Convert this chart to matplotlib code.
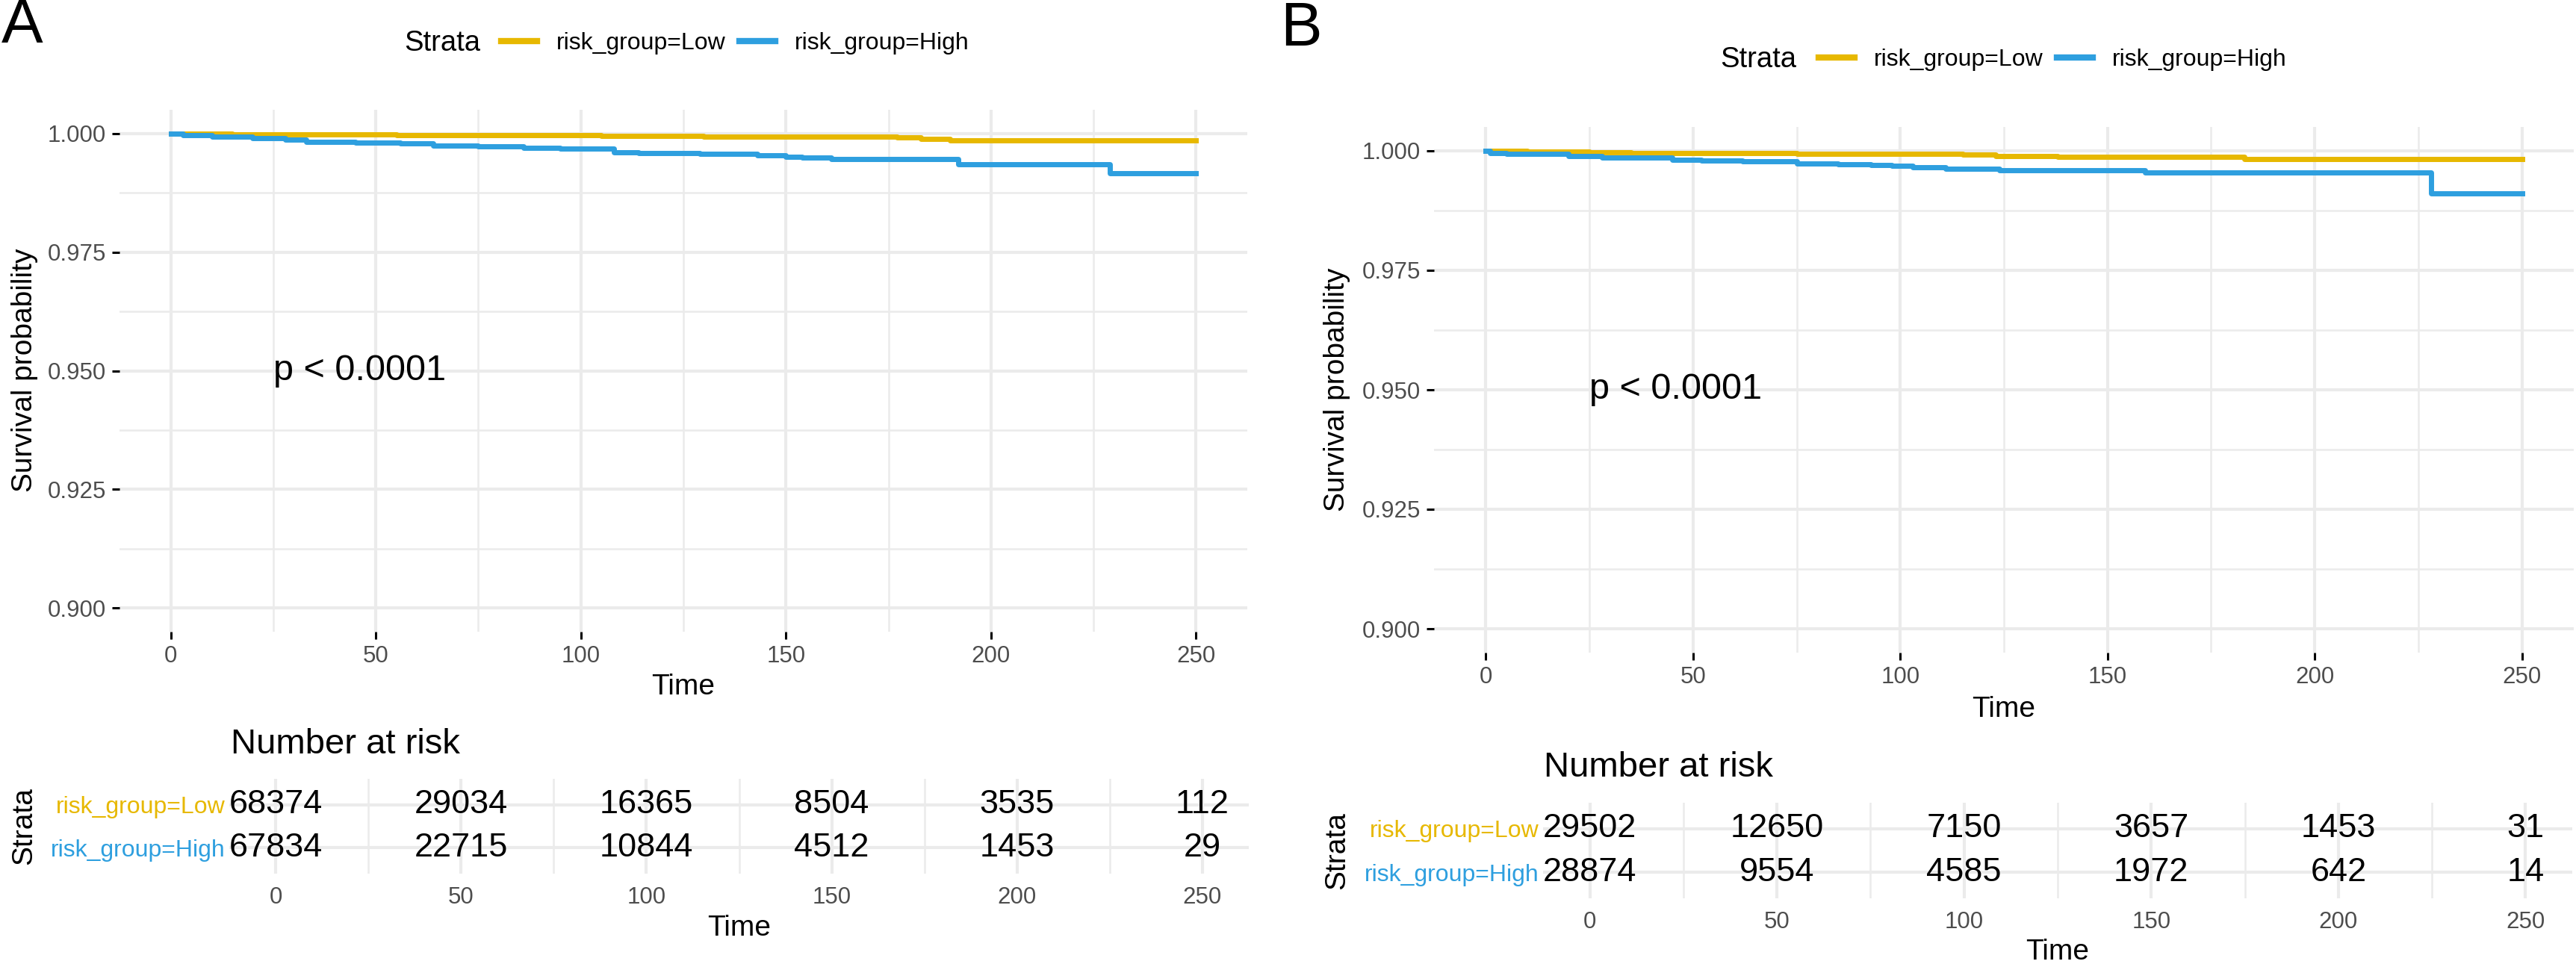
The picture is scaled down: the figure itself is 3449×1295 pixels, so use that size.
import numpy as np
import matplotlib
matplotlib.use('Agg')
import matplotlib.pyplot as plt
from matplotlib.lines import Line2D

plt.rcParams['font.family'] = ['Liberation Sans', 'DejaVu Sans']

W, H = 3449, 1295

# categorias e cores
grupos = ['risk_group=Low', 'risk_group=High']
cores = ['#E7B800', '#2E9FDF']
tempos_tabela = [0, 50, 100, 150, 200, 250]

# curvas de Kaplan-Meier (painel A)
a_low_t = [0, 15, 35, 55, 80, 105, 130, 150, 177, 183, 190, 250]
a_low_s = [1.0, 0.99985, 0.99975, 0.9997, 0.9996, 0.99953, 0.9994, 0.99932,
           0.9991, 0.9989, 0.99855, 0.99855]
a_high_t = [0, 3, 10, 20, 28, 33, 45, 56, 64, 75, 86, 95, 108, 114, 129, 134,
            143, 150, 154, 161, 192, 229, 250]
a_high_s = [1.0, 0.9997, 0.9993, 0.9990, 0.9987, 0.9983, 0.9981, 0.9979,
            0.9975, 0.9973, 0.9970, 0.9968, 0.99608, 0.99592, 0.99576,
            0.99566, 0.9954, 0.99514, 0.99487, 0.99461, 0.99357, 0.99163,
            0.99163]

# painel B
b_low_t = [0, 10, 25, 35, 50, 75, 115, 123, 138, 183, 250]
b_low_s = [1.0, 0.99985, 0.9997, 0.99958, 0.9995, 0.99942, 0.99917, 0.99886,
           0.99876, 0.99829, 0.99829]
b_high_t = [0, 1, 5, 20, 28, 45, 52, 62, 75, 85, 93, 98, 103, 111, 124, 159,
            228, 250]
b_high_s = [1.0, 0.9996, 0.99938, 0.99886, 0.9986, 0.99818, 0.99793, 0.99777,
            0.99741, 0.99725, 0.9970, 0.99689, 0.99663, 0.99627, 0.99595,
            0.99544, 0.99108, 0.99108]

# numero em risco
risco_a_low = [68374, 29034, 16365, 8504, 3535, 112]
risco_a_high = [67834, 22715, 10844, 4512, 1453, 29]
risco_b_low = [29502, 12650, 7150, 3657, 1453, 31]
risco_b_high = [28874, 9554, 4585, 1972, 642, 14]

GRID = '#EBEBEB'
CINZA = '#4D4D4D'


def caixa(x0, y0, x1, y1):
    return [x0 / W, 1 - y1 / H, (x1 - x0) / W, (y1 - y0) / H]


def painel_curva(fig, pos, curvas):
    ax = fig.add_axes(caixa(*pos))
    for (t, s), cor in zip(curvas, cores):
        ax.step(t, s, where='post', color=cor, lw=5, zorder=3)
    ax.set_xlim(-12.5, 262.5)
    ax.set_ylim(0.895, 1.005)
    ax.set_xticks(tempos_tabela)
    ax.set_xticks(np.arange(25, 250, 50), minor=True)
    ax.set_yticks([0.9, 0.925, 0.95, 0.975, 1.0])
    ax.set_yticks([0.9125, 0.9375, 0.9625, 0.9875], minor=True)
    ax.set_yticklabels(['0.900', '0.925', '0.950', '0.975', '1.000'])
    ax.grid(which='major', color=GRID, lw=3)
    ax.grid(which='minor', color=GRID, lw=1.8)
    ax.set_axisbelow(True)
    for sp in ax.spines.values():
        sp.set_visible(False)
    ax.tick_params(which='major', length=7, width=2.2, color='black',
                   labelsize=22.5, labelcolor=CINZA, pad=6)
    ax.tick_params(which='minor', length=0)
    ax.text(25, 0.95, 'p < 0.0001', fontsize=35, ha='left', va='center')
    return ax


def painel_tabela(fig, pos, risco):
    ax = fig.add_axes(caixa(*pos))
    for linha, valores in enumerate(risco, start=1):
        for t, v in zip(tempos_tabela, valores):
            ax.text(t, linha, str(v), fontsize=32.5, ha='center', va='center')
    ax.set_xlim(-12.5, 262.5)
    ax.set_ylim(2.6, 0.4)
    ax.set_xticks(tempos_tabela)
    ax.set_xticks(np.arange(25, 250, 50), minor=True)
    ax.set_yticks([1, 2])
    ax.set_yticklabels(grupos)
    for lab, cor in zip(ax.get_yticklabels(), cores):
        lab.set_color(cor)
    ax.grid(which='major', color=GRID, lw=3)
    ax.grid(which='minor', axis='x', color=GRID, lw=1.8)
    ax.set_axisbelow(True)
    for sp in ax.spines.values():
        sp.set_visible(False)
    ax.tick_params(axis='x', which='major', length=0, labelsize=22.5,
                   labelcolor=CINZA, pad=12)
    ax.tick_params(axis='y', which='major', length=0, labelsize=23, pad=4)
    ax.tick_params(which='minor', length=0)
    return ax


def legenda(fig, x_titulo, x_chave, yc):
    fig.text(x_titulo / W, 1 - yc / H, 'Strata', fontsize=27.5,
             ha='left', va='center')
    handles = [Line2D([], [], color=c, lw=6) for c in cores]
    fig.legend(handles, grupos, loc='center left',
               bbox_to_anchor=(x_chave / W, 1 - yc / H), ncol=2,
               frameon=False, fontsize=23, borderpad=0, borderaxespad=0,
               handlelength=1.5, handletextpad=0.8, columnspacing=0.6)


fig = plt.figure(figsize=(W / 100, H / 100), dpi=100)

# painel A
painel_curva(fig, (160, 147, 1670, 846),
             [(a_low_t, a_low_s), (a_high_t, a_high_s)])
painel_tabela(fig, (307, 1043, 1672, 1170), [risco_a_low, risco_a_high])
legenda(fig, 541, 671, 58)
fig.text(2 / W, 1 - 35 / H, 'A', fontsize=60, ha='left', va='center')
fig.text(33 / W, 1 - 496 / H, 'Survival probability', fontsize=28,
         rotation=90, ha='center', va='center')
fig.text(915 / W, 1 - 920 / H, 'Time', fontsize=28, ha='center', va='center')
fig.text(309 / W, 1 - 997 / H, 'Number at risk', fontsize=34,
         ha='left', va='center')
fig.text(32 / W, 1 - 1106 / H, 'Strata', fontsize=28, rotation=90,
         ha='center', va='center')
fig.text(990 / W, 1 - 1243 / H, 'Time', fontsize=28, ha='center', va='center')

# painel B
painel_curva(fig, (1920, 170, 3446, 874),
             [(b_low_t, b_low_s), (b_high_t, b_high_s)])
painel_tabela(fig, (2066, 1075, 3444, 1203), [risco_b_low, risco_b_high])
legenda(fig, 2303, 2435, 80)
fig.text(1714 / W, 1 - 39 / H, 'B', fontsize=60, ha='left', va='center')
fig.text(1790 / W, 1 - 522 / H, 'Survival probability', fontsize=28,
         rotation=90, ha='center', va='center')
fig.text(2683 / W, 1 - 950 / H, 'Time', fontsize=28, ha='center', va='center')
fig.text(2067 / W, 1 - 1028 / H, 'Number at risk', fontsize=34,
         ha='left', va='center')
fig.text(1790 / W, 1 - 1139 / H, 'Strata', fontsize=28, rotation=90,
         ha='center', va='center')
fig.text(2755 / W, 1 - 1275 / H, 'Time', fontsize=28, ha='center', va='center')

fig.savefig('out.png', dpi=100)
